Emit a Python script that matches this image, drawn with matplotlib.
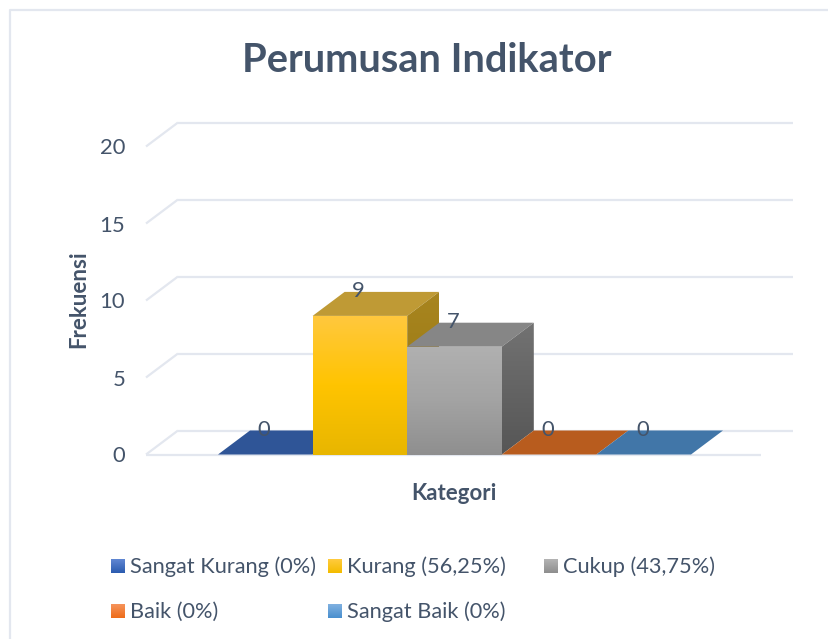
import numpy as np
import matplotlib
matplotlib.use("Agg")
import matplotlib.pyplot as plt
from matplotlib.patches import Polygon
from matplotlib.colors import LinearSegmentedColormap

plt.rcParams['font.family'] = ['Lato', 'DejaVu Sans']

# data
categories = ["Sangat Kurang (0%)", "Kurang (56,25%)", "Cukup (43,75%)", "Baik (0%)", "Sangat Baik (0%)"]
values = [0, 9, 7, 0, 0]
y_ticks = [0, 5, 10, 15, 20]

# colours per series: front top/mid/bottom, side top/bottom, top face
front_cols = [["#2f5597", "#2f5597", "#2f5597"],
              ["#ffc83d", "#ffc400", "#e8b600"],
              ["#b0b0b0", "#a3a3a3", "#8f8f8f"],
              ["#b85c1e", "#b85c1e", "#b85c1e"],
              ["#4176a8", "#4176a8", "#4176a8"]]
side_cols = [["#2f5597", "#2f5597"], ["#a8851f", "#94750f"], ["#727272", "#565656"],
             ["#b85c1e", "#b85c1e"], ["#4176a8", "#4176a8"]]
top_cols = ["#2f5597", "#bf9a35", "#868686", "#b85c1e", "#4176a8"]
swatch_cols = [["#5f86d2", "#2c5cb0"], ["#ffcb3d", "#f4bc00"], ["#b3b3b3", "#8f8f8f"],
               ["#f6935a", "#ee6d1b"], ["#7fb0e0", "#4a90cf"]]
text_col = "#44546a"
grid_col = "#e3e7ef"

W, H = 829, 639
fig = plt.figure(figsize=(W / 100, H / 100), dpi=100)

# full figure overlay in pixels for frame and legend
over = fig.add_axes([0, 0, 1, 1])
over.axis("off")

ax = fig.add_axes([146 / W, 1 - 454.5 / H, 615 / W, 308 / H])
px_x = 94.6            # pixels per bar
px_y = 308 / 20.0      # pixels per unit
depth_x = 32 / px_x
depth_y = 24 / px_y
xmin = -0.5 - 72 / px_x
xmax = 4.5 + 70 / px_x


def grad(a, extent, cols, clip):
    cmap = LinearSegmentedColormap.from_list("c", cols)
    im = a.imshow(np.linspace(0, 1, 64).reshape(-1, 1), cmap=cmap, extent=extent,
                  aspect="auto", origin="upper", zorder=3, clip_on=True)
    im.set_clip_path(clip)
    return im


# grid, drawn on the left wall and the back wall
for t in y_ticks:
    ax.plot([xmin, xmin + depth_x], [t, t + depth_y], color=grid_col, lw=1.6, clip_on=False, zorder=1,
            solid_capstyle="butt")
    ax.plot([xmin + depth_x, xmax + depth_x], [t + depth_y, t + depth_y], color=grid_col, lw=1.6,
            clip_on=False, zorder=1, solid_capstyle="butt")
ax.plot([xmin, xmax], [0, 0], color=grid_col, lw=1.6, clip_on=False, zorder=1, solid_capstyle="butt")

# bars, left to right so the later ones sit over the earlier sides
for i, v in enumerate(values):
    l, r = i - 0.5, i + 0.5
    z = 3 + i * 0.1
    top = Polygon([(l, v), (r, v), (r + depth_x, v + depth_y), (l + depth_x, v + depth_y)],
                  closed=True, fc=top_cols[i], ec="none", clip_on=False, zorder=z)
    ax.add_patch(top)
    if v > 0:
        side = Polygon([(r, 0), (r + depth_x, depth_y), (r + depth_x, v + depth_y), (r, v)],
                       closed=True, fc="none", ec="none", clip_on=False, transform=ax.transData)
        ax.add_patch(side)
        im = grad(ax, [r, r + depth_x, 0, v + depth_y], side_cols[i], side)
        im.set_zorder(z)
        front = Polygon([(l, 0), (r, 0), (r, v), (l, v)], closed=True, fc="none", ec="none", clip_on=False)
        ax.add_patch(front)
        im = grad(ax, [l, r, 0, v], front_cols[i], front)
        im.set_zorder(z + 0.01)
    ax.annotate(str(v), (i, v), xytext=(-1.5 * 0.72, 25 * 0.72), textcoords="offset points",
                ha="center", va="center", fontsize=15.8, color=text_col, zorder=10, annotation_clip=False)

ax.set_xlim(xmin, xmax)
ax.set_ylim(0, 20)
ax.set_xticks([])
ax.set_yticks(y_ticks)
ax.tick_params(axis="y", length=0, pad=15, labelsize=15.8, labelcolor=text_col)
for s in ax.spines.values():
    s.set_visible(False)
ax.patch.set_alpha(0)
ax.set_xlabel("Kategori", fontsize=16, fontweight="bold", color=text_col, labelpad=20.5)
ax.set_ylabel("Frekuensi", fontsize=16, fontweight="bold", color=text_col)
ax.yaxis.set_label_coords((89 - 146) / 615, (454 - 299) / 308)

fig.text(427 / W, 1 - 60 / H, "Perumusan Indikator", fontsize=28.7, fontweight="bold",
         color=text_col, ha="center", va="center")

# frame and legend
over.set_xlim(0, W)
over.set_ylim(H, 0)
over.plot([829, 10, 10], [10, 10, 639], color=grid_col, lw=1.6)

leg_x = [111, 328, 544, 111, 328]
leg_y = [566, 566, 566, 611, 611]
for i, name in enumerate(categories):
    x0, y0 = leg_x[i], leg_y[i]
    cmap = LinearSegmentedColormap.from_list("s", swatch_cols[i])
    over.imshow(np.linspace(0, 1, 16).reshape(-1, 1), cmap=cmap, aspect="auto", origin="upper",
                extent=[x0, x0 + 14, y0 + 7, y0 - 7])
    over.text(x0 + 19, y0 + 1, name, fontsize=15.7, color=text_col, ha="left", va="center")
over.set_xlim(0, W)
over.set_ylim(H, 0)

fig.savefig("out.png", dpi=100, facecolor="white")
